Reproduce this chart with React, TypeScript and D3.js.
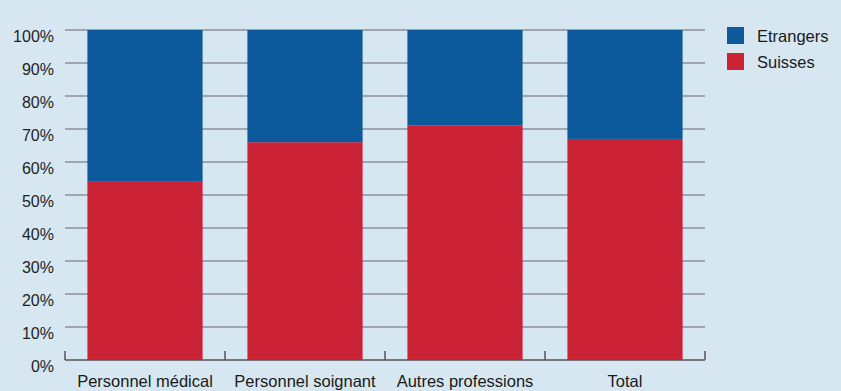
import { useRef, useEffect } from 'react';
import * as d3 from 'd3';

const categories = ['Personnel médical', 'Personnel soignant', 'Autres professions', 'Total'];
const suisses = [54, 66, 71, 67];
const etrangers = [46, 34, 29, 33];
const yTicks = [0, 10, 20, 30, 40, 50, 60, 70, 80, 90, 100];
const seriesNames = ['Etrangers', 'Suisses'];
const seriesColors: Record<string, string> = { Etrangers: '#0c5a9b', Suisses: '#cc2236' };

export default function App() {
  const ref = useRef<SVGSVGElement>(null);

  useEffect(() => {
    if (!ref.current) return;
    drawChart(ref.current);
  }, []);

  return (
    <svg
      ref={ref}
      width={841}
      height={391}
      style={{ position: 'absolute', left: 0, top: 0, display: 'block' }}
    />
  );
}

function drawChart(svgElement: SVGSVGElement) {
  const left = 65, right = 705, top = 30, bottom = 360;
  const font = '"Liberation Sans", Arial, sans-serif';

  const svg = d3.select(svgElement);
  svg.selectAll('*').remove();

  svg.append('rect').attr('width', 841).attr('height', 391).attr('fill', '#d6e7f1');

  const x = d3.scaleBand().domain(categories).range([left, right]).paddingInner(0.28).paddingOuter(0.14);
  const bands = d3.scaleBand().domain(categories).range([left, right]);
  const y = d3.scaleLinear().domain([0, 100]).range([bottom, top]);

  // gridlines
  svg.append('g')
    .selectAll('line')
    .data(yTicks.filter((t) => t > 0))
    .enter()
    .append('line')
    .attr('x1', left)
    .attr('x2', right)
    .attr('y1', (d) => y(d))
    .attr('y2', (d) => y(d))
    .attr('stroke', '#8c9196')
    .attr('stroke-width', 1.5);

  // y labels
  svg.append('g')
    .selectAll('text')
    .data(yTicks)
    .enter()
    .append('text')
    .attr('x', 54)
    .attr('y', (d) => y(d) + 12)
    .attr('text-anchor', 'end')
    .style('font-family', font)
    .style('font-size', '16px')
    .attr('fill', '#1e1e1e')
    .text((d) => `${d}%`);

  const rows = categories.map((c, i) => ({ cat: c, Suisses: suisses[i], Etrangers: etrangers[i] }));
  const stack = d3.stack<any>().keys(['Suisses', 'Etrangers'])(rows);

  svg.append('g')
    .selectAll('g')
    .data(stack)
    .enter()
    .append('g')
    .attr('fill', (s) => seriesColors[s.key])
    .selectAll('rect')
    .data((s) => s)
    .enter()
    .append('rect')
    .attr('x', (d: any) => x(d.data.cat)!)
    .attr('width', x.bandwidth())
    .attr('y', (d) => y(d[1]))
    .attr('height', (d) => y(d[0]) - y(d[1]));

  // bottom axis
  const axis = svg.append('g').attr('stroke', '#555').attr('stroke-width', 1.5);
  axis.append('line').attr('x1', left).attr('x2', right).attr('y1', bottom).attr('y2', bottom);
  const tickXs = [left, ...categories.map((c) => bands(c)! + bands.bandwidth())];
  axis.selectAll('line.tick')
    .data(tickXs)
    .enter()
    .append('line')
    .attr('class', 'tick')
    .attr('x1', (d) => d)
    .attr('x2', (d) => d)
    .attr('y1', bottom)
    .attr('y2', bottom - 9);

  svg.append('g')
    .selectAll('text')
    .data(categories)
    .enter()
    .append('text')
    .attr('x', (d) => bands(d)! + bands.bandwidth() / 2)
    .attr('y', 387)
    .attr('text-anchor', 'middle')
    .style('font-family', font)
    .style('font-size', '16.5px')
    .attr('fill', '#1a1a1a')
    .text((d) => d);

  // legend
  const legend = svg.append('g').attr('transform', 'translate(727,27)');
  seriesNames.forEach((name, i) => {
    const g = legend.append('g').attr('transform', `translate(0,${i * 26})`);
    g.append('rect').attr('width', 17).attr('height', 17).attr('fill', seriesColors[name]);
    g.append('text')
      .attr('x', 30)
      .attr('y', 15)
      .style('font-family', font)
      .style('font-size', '16.5px')
      .attr('fill', '#1a1a1a')
      .text(name);
  });
}
